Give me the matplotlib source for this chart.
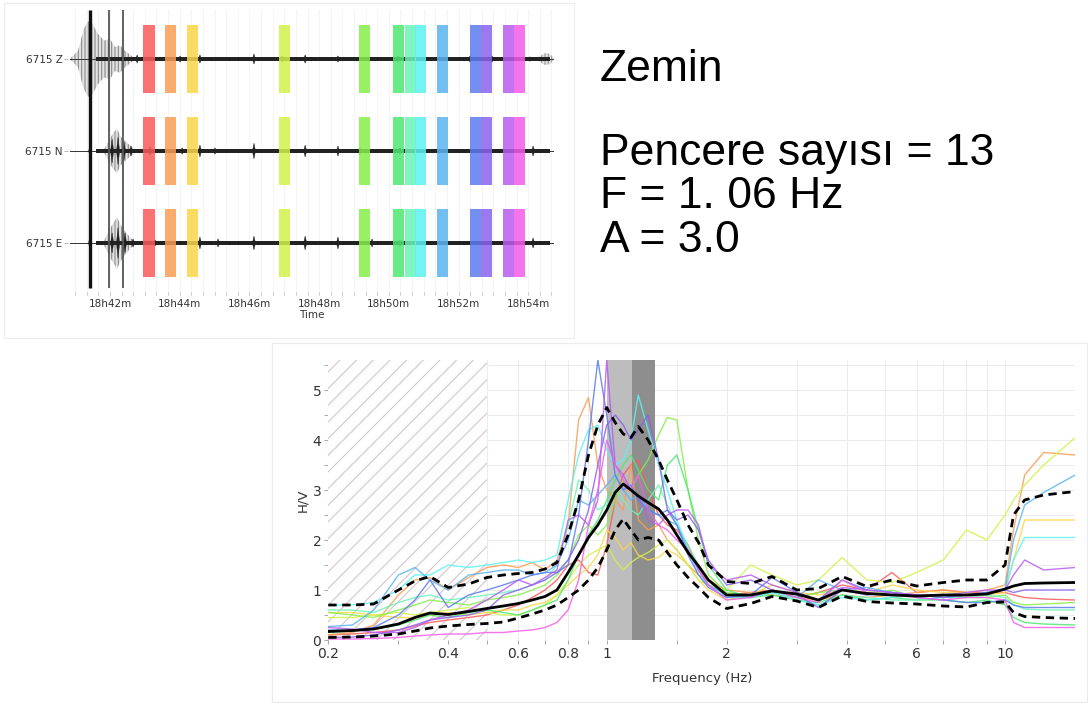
import numpy as np
import matplotlib
matplotlib.use('Agg')
import matplotlib.pyplot as plt
from matplotlib.patches import Rectangle
from matplotlib.ticker import NullFormatter

plt.rc('font', family='DejaVu Sans')
plt.rc('hatch', linewidth=0.8)

# ---------------- seismogram (top left) ----------------
components = ['6715 Z', '6715 N', '6715 E']
time_ticks = [42, 44, 46, 48, 50, 52, 54]
time_labels = ['18h42m', '18h44m', '18h46m', '18h48m', '18h50m', '18h52m', '18h54m']
trace_start, trace_end = 40.85, 54.72

# selected windows (start minute after 18h00), 13 windows
win_start = [42.96, 43.58, 44.21, 46.84, 49.15, 50.11, 50.45, 50.75, 51.37,
             52.32, 52.64, 53.27, 53.59]
win_len = 0.32
win_colors = ['#fa5a5a', '#fa9c55', '#fad64a', '#d2f24a', '#86ee4a', '#4ee870',
              '#6af4b8', '#5cf2f2', '#5cb4f0', '#5a7cf0', '#8a62ec', '#b85cf0', '#f45ce8']

# big event spikes
spike_t = [41.43, 41.96, 42.36]

# grey envelope of the event (time, amplitude) per component
env_t = [[40.85, 41.08, 41.25, 41.37, 41.48, 41.66, 41.83, 42.0, 42.14, 42.29, 42.43, 42.63, 42.75],
         [41.8, 41.95, 42.1, 42.2, 42.3, 42.4, 42.6, 42.8],
         [41.8, 41.95, 42.1, 42.2, 42.3, 42.4, 42.6, 42.8]]
env_a = [[0.0, 0.09, 0.33, 0.41, 0.39, 0.27, 0.2, 0.22, 0.13, 0.15, 0.09, 0.03, 0.0],
         [0.0, 0.1, 0.2, 0.24, 0.16, 0.12, 0.05, 0.0],
         [0.0, 0.12, 0.22, 0.28, 0.2, 0.14, 0.05, 0.0]]
tail_t = [54.25, 54.3, 54.48, 54.63, 54.75]
tail_a = [0.0, 0.025, 0.065, 0.055, 0.0]

# small bursts on the traces (time, amplitude)
burst_t = [[42.78, 44.01, 44.58, 46.13, 46.94, 47.6, 48.54, 50.26, 52.33, 52.96, 54.05],
           [41.43, 42.06, 42.23, 42.4, 42.6, 43.15, 44.07, 44.58, 45.01, 46.13, 47.6,
            48.54, 49.17, 50.32, 54.14],
           [41.43, 42.06, 42.23, 42.43, 42.66, 43.29, 44.58, 45.1, 46.13, 47.6, 48.54,
            49.52, 50.32, 54.14]]
burst_a = [[0.045, 0.035, 0.045, 0.055, 0.035, 0.045, 0.035, 0.035, 0.035, 0.035, 0.025],
           [0.065, 0.13, 0.15, 0.1, 0.055, 0.045, 0.035, 0.065, 0.035, 0.085, 0.065,
            0.055, 0.035, 0.035, 0.055],
           [0.085, 0.11, 0.17, 0.11, 0.045, 0.035, 0.065, 0.045, 0.075, 0.076, 0.065,
            0.045, 0.035, 0.055]]
base_amp = 0.019

# ---------------- H/V curves (bottom) ----------------
freq = [0.2, 0.23, 0.26, 0.3, 0.33, 0.36, 0.4, 0.45, 0.5, 0.55, 0.6, 0.65, 0.7, 0.75,
        0.8, 0.85, 0.9, 0.95, 1.0, 1.05, 1.1, 1.15, 1.2, 1.27, 1.35, 1.42, 1.5, 1.6,
        1.7, 1.8, 2.0, 2.3, 2.6, 3.0, 3.4, 3.9, 4.5, 5.2, 6.0, 7.0, 8.0, 9.0, 10.0,
        10.5, 11.2, 12.5, 15.0]

hv_mean = [0.17, 0.19, 0.22, 0.32, 0.45, 0.54, 0.51, 0.57, 0.63, 0.68, 0.73, 0.8, 0.87, 1.0,
           1.35, 1.7, 2.05, 2.3, 2.6, 2.95, 3.12, 3.0, 2.88, 2.75, 2.62, 2.4, 2.1, 1.75,
           1.48, 1.2, 0.9, 0.9, 0.98, 0.92, 0.8, 1.0, 0.93, 0.9, 0.88, 0.9, 0.9, 0.92, 1.02,
           1.08, 1.13, 1.14, 1.15]
hv_upper = [0.7, 0.7, 0.72, 1.0, 1.18, 1.27, 1.05, 1.12, 1.25, 1.3, 1.33, 1.35, 1.42, 1.55,
            2.1, 2.8, 3.7, 4.3, 4.65, 4.35, 4.12, 4.05, 4.27, 4.0, 3.6, 3.2, 2.8, 2.3,
            1.95, 1.5, 1.17, 1.13, 1.27, 1.0, 1.03, 1.27, 1.07, 1.2, 1.08, 1.15, 1.2, 1.2, 1.5,
            2.5, 2.8, 2.9, 2.97]
hv_lower = [0.05, 0.06, 0.08, 0.12, 0.18, 0.24, 0.28, 0.31, 0.33, 0.36, 0.44, 0.52, 0.6, 0.7,
            0.85, 1.0, 1.2, 1.45, 1.8, 2.2, 2.42, 2.2, 2.0, 2.05, 2.0, 1.75, 1.5, 1.25,
            1.05, 0.85, 0.63, 0.73, 0.87, 0.78, 0.65, 0.88, 0.77, 0.74, 0.72, 0.68, 0.66, 0.75, 0.76,
            0.55, 0.47, 0.45, 0.43]

hv_windows = [
    [0.1, 0.12, 0.15, 0.2, 0.28, 0.35, 0.4, 0.45, 0.5, 0.6, 0.7, 0.85, 1.0, 1.2, 1.5, 1.6,
     1.35, 1.3, 1.9, 2.8, 3.3, 3.5, 3.6, 3.0, 2.5, 2.3, 2.2, 1.9, 1.4, 1.1, 0.9, 0.95, 1.0,
     0.85, 0.95, 1.1, 1.0, 1.35, 0.95, 1.0, 0.95, 0.95, 0.95, 0.9, 0.85, 0.82, 0.8],
    [0.1, 0.15, 0.3, 0.9, 1.2, 1.25, 1.0, 1.25, 1.45, 1.5, 1.45, 1.55, 1.4, 1.6, 2.3, 4.4,
     4.85, 3.5, 3.0, 2.8, 2.6, 3.5, 2.4, 2.2, 2.3, 2.0, 1.8, 1.5, 1.3, 1.2, 1.0, 0.95, 0.9,
     0.85, 0.8, 0.9, 0.85, 0.9, 0.95, 1.0, 0.95, 1.0, 1.1, 2.2, 3.3, 3.75, 3.7],
    [0.55, 0.55, 0.5, 0.45, 0.45, 0.5, 0.55, 0.5, 0.55, 0.6, 0.6, 0.7, 0.75, 0.9, 1.1, 1.3,
     1.45, 1.7, 2.2, 2.05, 1.8, 1.95, 1.7, 1.6, 1.65, 1.8, 1.7, 1.5, 1.2, 1.0, 0.8, 0.9, 1.1,
     0.95, 0.9, 1.0, 0.95, 1.1, 1.0, 0.95, 0.95, 0.9, 0.95, 1.6, 2.4, 2.4, 2.4],
    [0.45, 0.45, 0.5, 0.55, 0.5, 0.55, 0.6, 0.65, 0.55, 0.5, 0.5, 0.6, 0.7, 0.9, 1.2, 1.5,
     1.7, 1.8, 1.9, 1.6, 1.4, 1.55, 1.65, 1.75, 1.9, 2.0, 1.8, 1.5, 1.2, 1.1, 1.0, 1.5, 1.3,
     1.1, 1.2, 1.65, 1.2, 1.15, 1.35, 1.6, 2.2, 2.0, 2.5, 2.8, 3.1, 3.5, 4.05],
    [0.55, 0.5, 0.45, 0.6, 0.7, 0.8, 0.75, 0.7, 0.8, 0.85, 0.9, 1.0, 1.1, 1.3, 1.6, 2.1,
     2.3, 2.1, 2.3, 2.8, 3.2, 3.0, 3.3, 3.6, 4.1, 4.45, 4.4, 3.0, 2.0, 1.3, 0.95, 0.9, 1.0,
     0.85, 0.95, 1.0, 0.9, 1.0, 0.85, 0.9, 0.85, 0.85, 0.9, 0.75, 0.7, 0.72, 0.75],
    [0.15, 0.18, 0.22, 0.3, 0.4, 0.5, 0.45, 0.55, 0.6, 0.55, 0.5, 0.6, 0.7, 0.8, 1.2, 1.7,
     2.1, 2.4, 2.8, 3.2, 3.5, 3.7, 3.4, 3.0, 2.8, 3.5, 3.7, 3.0, 2.2, 1.5, 1.0, 0.85, 0.9,
     0.8, 0.75, 0.9, 0.8, 0.85, 0.8, 0.8, 0.75, 0.8, 0.7, 0.45, 0.35, 0.32, 0.3],
    [0.6, 0.6, 0.55, 0.75, 0.85, 0.9, 0.8, 0.85, 0.9, 0.95, 1.0, 1.1, 1.2, 1.5, 2.3, 3.2,
     3.0, 2.6, 2.7, 3.0, 2.8, 2.6, 2.5, 2.8, 3.1, 2.7, 2.3, 1.9, 1.5, 1.2, 0.85, 0.85, 0.95,
     0.85, 0.7, 0.9, 0.85, 0.8, 0.8, 0.85, 0.85, 0.9, 0.85, 0.7, 0.62, 0.6, 0.6],
    [0.7, 0.7, 0.75, 1.0, 1.3, 1.3, 1.5, 1.45, 1.5, 1.55, 1.6, 1.55, 1.6, 1.7, 2.8, 3.7,
     4.2, 4.3, 3.8, 3.5, 3.6, 4.0, 4.9, 4.2, 3.5, 3.0, 2.4, 1.8, 1.3, 1.1, 0.9, 0.85, 0.95,
     0.8, 0.7, 0.85, 0.8, 0.85, 0.9, 0.85, 0.9, 0.95, 1.0, 1.6, 2.05, 2.05, 2.05],
    [0.27, 0.3, 0.6, 1.3, 1.45, 1.2, 1.0, 1.3, 1.35, 1.4, 1.4, 1.3, 1.35, 1.5, 2.0, 2.8,
     2.7, 2.9, 3.1, 3.3, 3.0, 2.8, 2.9, 2.6, 2.5, 2.4, 2.3, 1.8, 1.4, 1.1, 0.9, 0.85, 1.0,
     0.85, 1.2, 1.0, 1.05, 0.95, 0.9, 0.85, 0.9, 0.95, 1.0, 2.0, 2.7, 2.95, 3.3],
    [0.2, 0.2, 0.25, 0.5, 0.8, 1.2, 0.65, 0.9, 1.0, 1.1, 1.2, 1.3, 1.35, 1.35, 1.5, 2.5,
     4.0, 5.6, 4.5, 3.3, 3.0, 3.1, 2.8, 2.6, 2.5, 2.6, 2.3, 1.7, 1.3, 1.05, 0.85, 0.9, 1.25,
     0.95, 0.8, 1.2, 1.0, 0.95, 0.85, 0.8, 0.75, 0.75, 0.8, 0.7, 0.65, 0.65, 0.65],
    [0.05, 0.06, 0.1, 0.2, 0.3, 0.4, 0.45, 0.5, 0.6, 0.9, 1.0, 1.1, 1.2, 1.35, 1.6, 2.0,
     2.6, 3.5, 4.3, 4.5, 4.3, 4.0, 4.2, 4.5, 3.6, 2.6, 2.4, 2.5, 2.2, 1.6, 1.1, 1.2, 1.0,
     0.9, 0.65, 1.0, 0.9, 0.95, 0.9, 0.85, 0.9, 0.95, 1.0, 0.95, 1.0, 1.0, 1.0],
    [0.25, 0.22, 0.15, 0.15, 0.25, 0.4, 0.5, 0.6, 0.8, 1.0, 1.2, 1.1, 1.25, 1.4, 2.4, 2.5,
     2.3, 2.8, 5.6, 3.5, 3.3, 3.0, 2.9, 2.4, 2.3, 2.5, 2.6, 2.6, 2.3, 1.5, 1.2, 1.3, 1.1,
     0.95, 0.8, 1.05, 1.0, 0.95, 0.9, 0.9, 0.95, 1.0, 1.0, 1.3, 1.6, 1.4, 1.45],
    [0.02, 0.02, 0.03, 0.05, 0.08, 0.1, 0.12, 0.12, 0.15, 0.15, 0.18, 0.2, 0.25, 0.35, 0.6,
     1.2, 2.3, 3.0, 4.0, 3.5, 3.2, 3.0, 3.3, 2.6, 2.3, 2.2, 2.0, 1.8, 1.4, 1.1, 0.8, 0.85,
     1.0, 0.85, 0.75, 1.2, 0.95, 0.9, 0.85, 0.8, 0.85, 0.85, 0.8, 0.35, 0.25, 0.25, 0.25],
]

f0_band = [1.0, 1.16, 1.32]
min_freq_limit = 0.5

xticks = [0.2, 0.4, 0.6, 0.8, 1, 2, 4, 6, 8, 10]
xticklabels = ['0.2', '0.4', '0.6', '0.8', '1', '2', '4', '6', '8', '10']
xminor = [0.3, 0.5, 0.7, 0.9, 1.5, 3, 5, 7, 9]

info_title = 'Zemin'
info_lines = ['Pencere sayısı = 13', 'F = 1. 06 Hz', 'A = 3.0']


fig = plt.figure(figsize=(10.88, 7.04), dpi=100)

# faint frames of the two pasted panels
fig.add_artist(Rectangle((4 / 1088, 1 - 338 / 704), 570 / 1088, 335 / 704,
                         transform=fig.transFigure, fill=False, ec='#ececec', lw=0.8))
fig.add_artist(Rectangle((272 / 1088, 1 - 702 / 704), 815 / 1088, 359 / 704,
                         transform=fig.transFigure, fill=False, ec='#ececec', lw=0.8))

# ---------- top: traces ----------
ax1 = fig.add_axes([68.2 / 1088, 1 - 292 / 704, 487.9 / 1088, 282 / 704])
ax1.set_xlim(40.8, 54.8)
ax1.set_ylim(-2.533, 0.533)
for s in ax1.spines.values():
    s.set_visible(False)

for r, name in enumerate(components):
    y0 = -r
    ea = np.array(env_a[r])
    ax1.fill_between(env_t[r], y0 - ea, y0 + ea, facecolor='#e2e2e2',
                     edgecolor='#8a8a8a', hatch='|||||', lw=0, zorder=2)
    if r == 0:
        ta = np.array(tail_a)
        ax1.fill_between(tail_t, y0 - ta, y0 + ta, facecolor='#e2e2e2',
                         edgecolor='#999999', hatch='|||||', lw=0, zorder=2)
    ax1.plot([trace_start, trace_end], [y0, y0], color='#333333', lw=0.7, zorder=3)
    ax1.fill_between([41.6, trace_end - 0.1], y0 - base_amp, y0 + base_amp,
                     color='#222222', lw=0, zorder=3)
    for t, a in zip(burst_t[r], burst_a[r]):
        ax1.fill([t - 0.045, t, t + 0.045, t], [y0, y0 + a, y0, y0 - a],
                 color='#222222', lw=0.3, zorder=3)
    for ws, c in zip(win_start, win_colors):
        ax1.add_patch(Rectangle((ws, y0 - 0.37), win_len, 0.74, facecolor=c,
                                alpha=0.85, lw=0, zorder=4))

ax1.vlines(spike_t[0], -2.49, 0.53, color='#111111', lw=2.4, zorder=5)
ax1.vlines(spike_t[1:], -2.49, 0.53, color='#555555', lw=1.3, zorder=5)

ax1.set_yticks([0, -1, -2], labels=components)
ax1.set_xticks(time_ticks, labels=time_labels)
ax1.set_xticks(np.arange(41, 54.9, 1 / 3), minor=True)
ax1.grid(True, which='both', axis='x', color='#f3f3f3', lw=0.6, zorder=0)
ax1.tick_params(axis='y', length=3, width=0.6, color='#aaaaaa', pad=1,
                labelsize=7.5, labelcolor='#333333')
ax1.tick_params(axis='x', which='both', length=2, width=0.6, color='#bbbbbb',
                labelsize=7.5, labelcolor='#333333', pad=3)
ax1.set_xlabel('Time', fontsize=7.5, color='#333333', labelpad=1)

# ---------- right: text ----------
fig.text(600 / 1088, 1 - 81 / 704, info_title, fontsize=32, family='Liberation Sans',
         va='baseline', ha='left')
for i, line in enumerate(info_lines):
    fig.text(600 / 1088, 1 - (165 + 43.5 * i) / 704, line, fontsize=32,
             family='Liberation Sans', va='baseline', ha='left')

# ---------- bottom: H/V ----------
ax2 = fig.add_axes([328.3 / 1088, 1 - 640 / 704, 746.9 / 1088, 280 / 704])
ax2.set_xscale('log')
ax2.set_xlim(0.2, 15)
ax2.set_ylim(0, 5.6)
for s in ax2.spines.values():
    s.set_visible(False)

ax2.set_xticks(xticks, labels=xticklabels)
ax2.set_xticks(xminor, minor=True)
ax2.xaxis.set_minor_formatter(NullFormatter())
ax2.set_yticks([0, 1, 2, 3, 4, 5])
ax2.set_yticks(np.arange(0.5, 5.6, 0.5), minor=True)
ax2.grid(True, which='both', color='#ececec', lw=0.7, zorder=0)
ax2.set_axisbelow(True)
ax2.tick_params(which='both', direction='out', length=3, width=0.6, color='#999999',
                labelsize=10, labelcolor='#333333', pad=2)

ax2.axvspan(0.2, min_freq_limit, facecolor='white', edgecolor='#d4c6cd', hatch='//',
            lw=0, zorder=1)
ax2.axvspan(f0_band[0], f0_band[1], color='#bdbdbd', lw=0, zorder=1)
ax2.axvspan(f0_band[1], f0_band[2], color='#8e8e8e', lw=0, zorder=1)

for vals, c in zip(hv_windows, win_colors):
    ax2.plot(freq, vals, color=c, lw=1.0, alpha=0.85, zorder=2)

ax2.plot(freq, hv_mean, color='black', lw=2.0, zorder=4)
ax2.plot(freq, hv_upper, color='black', lw=2.0, ls=(0, (3, 2)), zorder=4)
ax2.plot(freq, hv_lower, color='black', lw=2.0, ls=(0, (3, 2)), zorder=4)

ax2.set_xlabel('Frequency (Hz)', fontsize=9.5, color='#333333', labelpad=8)
ax2.set_ylabel('H/V', fontsize=9.5, color='#333333', labelpad=2)

fig.savefig('out.png', dpi=100)
